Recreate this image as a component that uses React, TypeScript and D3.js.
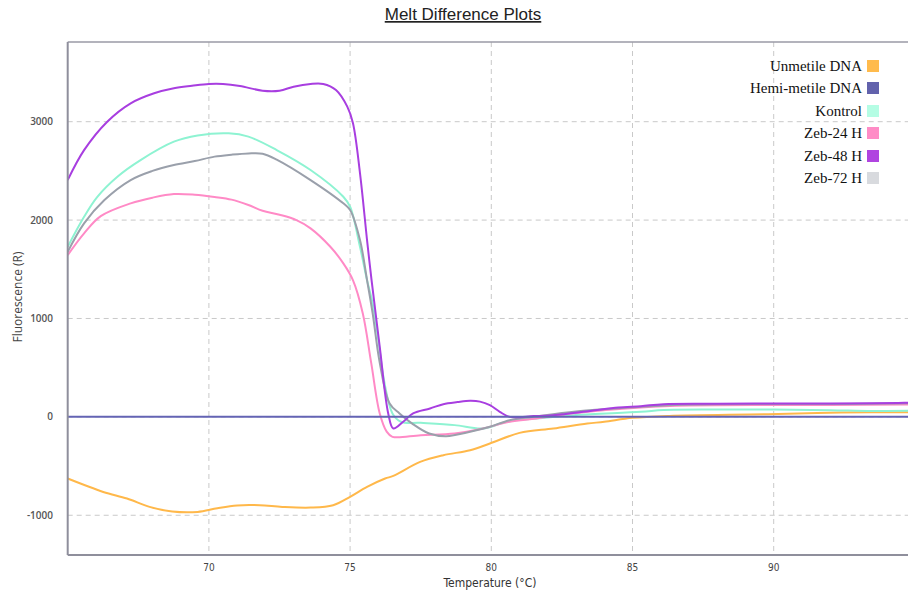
import * as d3 from 'd3';

// Temperature (°C), fluorescence (R) pairs
const unmetile: [number, number][] = [
  [65, -627], [66.26, -763], [67.1, -830], [67.9, -915], [68.7, -962], [69.6, -966],
  [70.3, -928], [71.0, -900], [71.8, -898], [72.6, -915], [73.6, -922], [74.4, -898],
  [75.0, -813], [75.6, -712], [76.24, -627], [76.53, -600], [77.48, -458], [78.3, -390],
  [79.25, -339], [79.95, -271], [81.0, -163], [82.2, -118], [83.4, -68], [84.0, -50],
  [85.0, -10], [86.3, 10], [89.8, 27], [92.4, 44], [95, 48],
];
const hemimetile: [number, number][] = [[65, 0], [80, 0], [95, 0]];
const kontrol: [number, number][] = [
  [65, 1729], [65.58, 2034], [66.05, 2237], [66.76, 2441], [67.58, 2610], [68.76, 2797],
  [69.6, 2860], [70.7, 2882], [71.4, 2848], [72.4, 2712], [73.6, 2509], [74.76, 2237],
  [75.0, 2136], [75.35, 1729], [75.6, 1390], [75.8, 1150], [76.0, 780], [76.2, 373],
  [76.5, 35], [76.8, -50], [77.5, -61], [78.7, -84], [79.7, -118], [80.55, -50],
  [81.6, -17], [83, 20], [85.3, 51], [86.1, 70], [88, 75], [90, 75], [92, 68], [93.5, 60], [95, 62],
];
const zeb24: [number, number][] = [
  [65, 1644], [65.58, 1865], [66.17, 2040], [67.23, 2170], [68.0, 2228], [68.76, 2265],
  [69.5, 2258], [70.2, 2235], [70.8, 2208], [71.4, 2153], [71.9, 2095],
  [72.5, 2055], [73.1, 2000], [73.6, 1916], [74.3, 1729], [74.76, 1560], [75.1, 1390],
  [75.45, 1051], [75.75, 543], [76.05, 35], [76.3, -152], [76.5, -203], [77.5, -186],
  [78.7, -169], [79.7, -118], [80.65, -50], [81.6, -17], [83, 40], [85.3, 95], [87, 115],
  [90, 120], [92, 120], [95, 125],
];
const zeb48: [number, number][] = [
  [65, 2407], [65.58, 2711], [66.4, 3000], [67.23, 3187], [68.06, 3289], [68.76, 3340],
  [69.4, 3365], [70, 3384], [70.5, 3384], [71.1, 3363], [71.9, 3315],
  [72.5, 3315], [73, 3356], [73.6, 3384], [74.05, 3384], [74.5, 3322], [74.9, 3153],
  [75.1, 2987], [75.35, 2478], [75.6, 1797], [75.76, 1390], [76.05, 712], [76.35, 35],
  [76.53, -118], [76.88, -50], [77.23, 35], [77.83, 85], [78.3, 129], [78.8, 150],
  [79.25, 163], [79.6, 155], [79.95, 119], [80.3, 51], [80.65, 0], [81.5, 8], [82.2, 17],
  [83.5, 60], [84.5, 95], [85.3, 109], [86.1, 129], [88, 133], [90, 135], [92, 135],
  [93.5, 138], [94.4, 142], [95, 145],
];
const zeb72: [number, number][] = [
  [65, 1678], [65.58, 1967], [66.3, 2204], [67.23, 2407], [68.0, 2500], [68.76, 2560],
  [69.5, 2600], [70.2, 2645], [70.8, 2665], [71.4, 2678], [71.9, 2675], [72.4, 2615],
  [73.6, 2407], [74.76, 2170], [75.0, 2102], [75.35, 1797], [75.6, 1390], [75.8, 1050],
  [76.05, 550], [76.4, 136], [76.75, 35], [77.2, -68], [77.8, -169], [78.4, -196],
  [79.25, -152], [79.95, -101], [80.65, -34], [81.5, 0], [83, 55], [85.3, 102],
  [86.5, 120], [88, 128], [90, 130], [92, 130], [94, 135], [95, 138],
];

const seriesNames = ['Unmetile DNA', 'Hemi-metile DNA', 'Kontrol', 'Zeb-24 H', 'Zeb-48 H', 'Zeb-72 H'];
const swatchColors = ['#ffbb4d', '#6262ac', '#b5fde4', '#ff8cc6', '#b044e0', '#d8dade'];
const lineColors = ['#ffb84a', '#6464b4', '#8ef3d2', '#ff8ac6', '#a83ee0', '#9aa0ab'];
const seriesData = [unmetile, hemimetile, kontrol, zeb24, zeb48, zeb72];
const drawOrder = [0, 2, 3, 5, 4, 1];

const xTicks = [70, 75, 80, 85, 90];
const yTicks = [-1000, 0, 1000, 2000, 3000];
const legendY = [66, 88, 111, 133, 156, 178];

const App = () => {
  const width = 908;
  const height = 597;
  const left = 67.7;
  const top = 42;
  const bottom = 555;

  const x = d3.scaleLinear().domain([65, 95]).range([left, left + 30 * 28.24]);
  const y = d3.scaleLinear().domain([-1404, 3810]).range([bottom, top]);

  const line = d3.line<[number, number]>()
    .x(d => x(d[0]))
    .y(d => y(d[1]))
    .curve(d3.curveCatmullRom.alpha(0.5));

  return (
    <svg width={width} height={height}
      style={{position: 'absolute', left: 0, top: 0, background: '#fff'}}>
      <defs>
        <clipPath id="plot">
          <rect x={left} y={top} width={width - left} height={bottom - top} />
        </clipPath>
      </defs>

      {/* title */}
      <text x={463} y={20} textAnchor="middle" fontFamily="Liberation Sans, Arial"
        fontSize={17} fill="#222" textDecoration="underline">Melt Difference Plots</text>

      {/* grid */}
      {xTicks.map(t => (
        <line key={'gx' + t} x1={x(t)} x2={x(t)} y1={top} y2={bottom}
          stroke="#c9c9c9" strokeDasharray="5,4" />
      ))}
      {yTicks.map(t => (
        <line key={'gy' + t} x1={left} x2={width} y1={y(t)} y2={y(t)}
          stroke="#c9c9c9" strokeDasharray="5,4" />
      ))}

      {/* series */}
      <g clipPath="url(#plot)">
        {drawOrder.map(i => (
          <path key={seriesNames[i]} d={line(seriesData[i]) || ''} fill="none"
            stroke={lineColors[i]} strokeWidth={2} />
        ))}
      </g>

      {/* frame */}
      <line x1={left} x2={width} y1={top} y2={top} stroke="#9a9aa6" strokeWidth={1.5} />
      <line x1={left} x2={width} y1={bottom} y2={bottom} stroke="#8f8f9c" strokeWidth={2} />
      <line x1={left} x2={left} y1={top} y2={bottom} stroke="#8f8f9c" strokeWidth={2} />

      {/* y ticks */}
      {yTicks.map(t => (
        <text key={'ty' + t} x={53} y={y(t) + 3.5} textAnchor="end"
          fontFamily="Open Sans, sans-serif" fontSize={10} fontWeight={600} fill="#555">{t}</text>
      ))}
      <text transform={`translate(22, 297) rotate(-90)`} textAnchor="middle"
        fontFamily="Open Sans, sans-serif" fontSize={12} fill="#444">Fluorescence (R)</text>

      {/* x ticks */}
      {xTicks.map(t => (
        <text key={'tx' + t} x={x(t)} y={571} textAnchor="middle"
          fontFamily="DejaVu Sans Condensed, DejaVu Sans" fontSize={10} fill="#444">{t}</text>
      ))}
      <text x={490} y={587} textAnchor="middle"
        fontFamily="DejaVu Sans Condensed, DejaVu Sans" fontSize={12} fill="#333">Temperature (°C)</text>

      {/* legend */}
      {seriesNames.map((name, i) => (
        <g key={'lg' + name}>
          <text x={862} y={legendY[i] + 5} textAnchor="end"
            fontFamily="Liberation Serif, Times New Roman, serif" fontSize={15} fill="#111">{name}</text>
          <rect x={867} y={legendY[i] - 6} width={12} height={12} fill={swatchColors[i]} />
        </g>
      ))}
    </svg>
  );
};

export default App;
